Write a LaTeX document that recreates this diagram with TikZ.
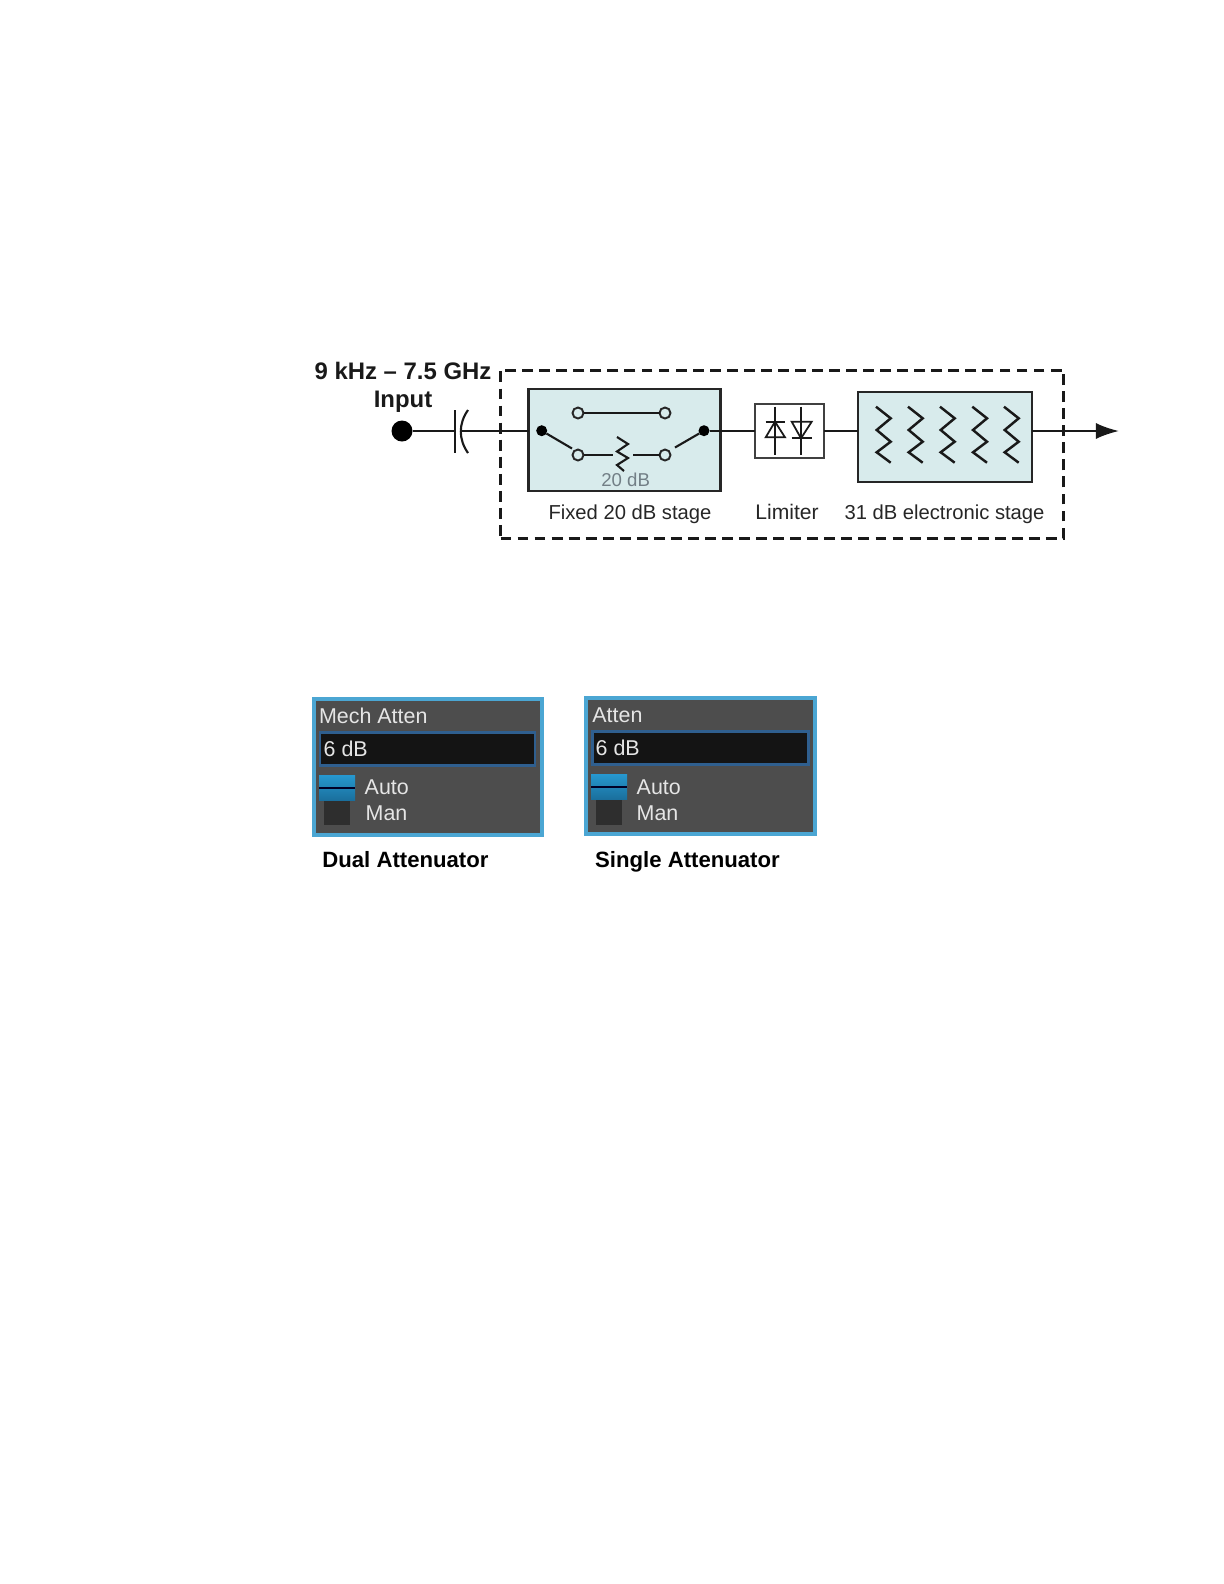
\documentclass[tikz,border=0pt]{standalone}
\usepackage{fontspec}
\setmainfont{Liberation Sans}
\usetikzlibrary{arrows.meta,shapes}
\definecolor{stagefill}{HTML}{D8EBEC}
\definecolor{panelblue}{HTML}{4BA6D3}
\definecolor{panelgray}{HTML}{4D4D4D}
\definecolor{fieldblue}{HTML}{2F5F8F}
\definecolor{autotop}{HTML}{2697CE}
\definecolor{autolow}{HTML}{1A6F9C}
\tikzstyle{stage}=[rectangle,draw=black!85,fill=stagefill,line width=0.65pt,inner sep=0pt,outer sep=0pt]
\tikzstyle{limbox}=[rectangle,draw=black!75,fill=white,line width=0.4pt,inner sep=0pt,outer sep=0pt]
\tikzstyle{wire}=[line width=0.6pt,black!90]
\tikzstyle{term}=[circle,draw=black!85,fill=stagefill,line width=0.55pt,minimum size=1.1mm,inner sep=0pt,outer sep=0pt]
\tikzstyle{pole}=[circle,fill=black,minimum size=1.1mm,inner sep=0pt,outer sep=0pt]
\tikzstyle{lab}=[font=\fontsize{5.75pt}{7pt}\selectfont,text=black!85,inner sep=0pt,anchor=base]
\tikzstyle{boldlab}=[font=\fontsize{6.8pt}{8pt}\selectfont\bfseries,text=black!90,inner sep=0pt]
\tikzstyle{capt}=[font=\fontsize{6.3pt}{8pt}\selectfont\bfseries,text=black,inner sep=0pt,anchor=base west]
\tikzstyle{panel}=[rectangle,draw=panelblue,fill=panelgray,line width=1.2pt,inner sep=0pt,outer sep=0pt]
\tikzstyle{field}=[rectangle,draw=fieldblue,fill=black!92,line width=0.75pt,minimum height=3.3mm,inner sep=0pt,outer sep=0pt]
\tikzstyle{ptext}=[font=\fontsize{6.1pt}{7pt}\selectfont,text=black!10,inner sep=0pt,anchor=west]
\tikzstyle{autobtn}=[rectangle,top color=autotop,bottom color=autolow,minimum width=3.6mm,minimum height=2.45mm,inner sep=0pt,outer sep=0pt]
\tikzstyle{manbtn}=[rectangle,fill=black!82,minimum width=2.55mm,minimum height=2.45mm,inner sep=0pt,outer sep=0pt]

\begin{document}
\begin{tikzpicture}
\useasboundingbox (0,0) rectangle (12.24,-15.84);
% block diagram
\node[rectangle,draw=black!90,dash pattern=on 3.1pt off 1.75pt,line width=0.85pt,minimum width=56.3mm,minimum height=16.8mm,inner sep=0pt] (Path) at (7.82,-4.54) {};
\node[stage,minimum width=19.2mm,minimum height=10.2mm] (Fixed) at (6.245,-4.40) {};
\node[limbox,minimum width=6.9mm,minimum height=5.4mm] (Lim) at (7.895,-4.31) {};
\node[stage,minimum width=17.45mm,minimum height=9.05mm] (Elec) at (9.45,-4.37) {};

\node[circle,fill=black,minimum size=2.1mm,inner sep=0pt] (In) at (4.02,-4.31) {};
\coordinate (CapA) at (4.55,-4.31);
\coordinate (CapB) at (4.60,-4.31);
\coordinate (Out) at (11.19,-4.31);
\node[boldlab] (Band) at (4.03,-3.71) {9 kHz – 7.5 GHz};
\node[boldlab] (Inp) at (4.03,-4.02) {Input};
\draw[wire] (In)--(CapA);
\draw[wire] (4.55,-4.10)--(4.55,-4.53);
\draw[wire] (4.68,-4.10) to [bend right=35] (4.68,-4.53);
\draw[wire] (CapB)--(Fixed.west |- CapB);

% switch
\node[pole] (SwL) at (5.417,-4.307) {};
\node[pole] (SwR) at (7.04,-4.307) {};
\node[term] (UpL) at (5.78,-4.13) {};
\node[term] (UpR) at (6.65,-4.13) {};
\node[term] (LoL) at (5.78,-4.55) {};
\node[term] (LoR) at (6.65,-4.55) {};
\coordinate (ResT) at (6.17,-4.37);
\coordinate (ResB) at (6.24,-4.71);
\draw[wire] (UpL)--(UpR);
\draw[wire] (SwL)--(5.72,-4.485);
\draw[wire] (SwR)--(6.75,-4.475);
\draw[wire] (LoL)--(6.13,-4.55);
\draw[wire] (6.33,-4.55)--(LoR);
\draw[wire] (ResT)--(6.28,-4.44)--(6.17,-4.515)--(6.28,-4.58)--(6.17,-4.65)--(ResB);
\node[text=black!60!cyan!40!gray,font=\fontsize{5.3pt}{6pt}\selectfont,inner sep=0pt] (Loss) at (6.257,-4.80) {20 dB};
\draw[wire] (SwR)--(Lim.west |- SwR);

% limiter
\draw[wire,line width=0.5pt] (7.75,-4.067)--(7.75,-4.55);
\draw[wire,line width=0.5pt] (7.657,-4.217)--(7.85,-4.217);
\draw[wire,line width=0.5pt] (7.75,-4.217)--(7.657,-4.373)--(7.85,-4.373)--cycle;
\draw[wire,line width=0.5pt] (8.01,-4.067)--(8.01,-4.55);
\draw[wire,line width=0.5pt] (7.917,-4.383)--(8.117,-4.383);
\draw[wire,line width=0.5pt] (8.01,-4.383)--(7.917,-4.217)--(8.117,-4.217)--cycle;
\draw[wire] (Lim.east)--(Elec.west |- Lim.east);

% electronic stage
\foreach \x in {8.76,9.08,9.40,9.723,10.04}
  \draw[wire,line width=0.7pt] (\x,-4.067)--(\x+0.147,-4.183)--(\x+0.007,-4.30)--(\x+0.147,-4.417)--(\x+0.007,-4.523)--(\x+0.147,-4.627);
\draw[wire,-{Latex[length=6.6pt,width=4.6pt]}] (Elec.east |- Out)--(Out);

\node[lab] (FixedLab) at (6.30,-5.195) {Fixed 20 dB stage};
\node[lab,font=\fontsize{6pt}{7pt}\selectfont] (LimLab) at (7.87,-5.195) {Limiter};
\node[lab] (ElecLab) at (9.445,-5.195) {31 dB electronic stage};

% dual attenuator panel
\node[panel,minimum width=22.85mm,minimum height=13.6mm] (DualP) at (4.28,-7.673) {};
\node[field,minimum width=21.5mm] (DualF) at (4.275,-7.493) {};
\node[ptext] (DualT) at (3.183,-7.157) {Mech Atten};
\node[ptext] (DualV) at (3.23,-7.49) {6 dB};
\node[autobtn] (DualA) at (3.37,-7.88) {};
\draw[black!85!blue,line width=0.55pt] (DualA.west)--(DualA.east);
\node[manbtn] (DualM) at (3.37,-8.128) {};
\node[ptext] (DualAT) at (3.64,-7.875) {Auto};
\node[ptext] (DualMT) at (3.65,-8.135) {Man};
\node[capt] (DualC) at (3.217,-8.675) {Dual Attenuator};

% single attenuator panel
\node[panel,minimum width=22.9mm,minimum height=13.6mm] (SingP) at (7.005,-7.662) {};
\node[field,minimum width=21.6mm] (SingF) at (7.008,-7.479) {};
\node[ptext] (SingT) at (5.917,-7.15) {Atten};
\node[ptext] (SingV) at (5.95,-7.48) {6 dB};
\node[autobtn] (SingA) at (6.09,-7.87) {};
\draw[black!85!blue,line width=0.55pt] (SingA.west)--(SingA.east);
\node[manbtn] (SingM) at (6.092,-8.125) {};
\node[ptext] (SingAT) at (6.36,-7.87) {Auto};
\node[ptext] (SingMT) at (6.36,-8.135) {Man};
\node[capt] (SingC) at (5.945,-8.675) {Single Attenuator};
\end{tikzpicture}
\end{document}
